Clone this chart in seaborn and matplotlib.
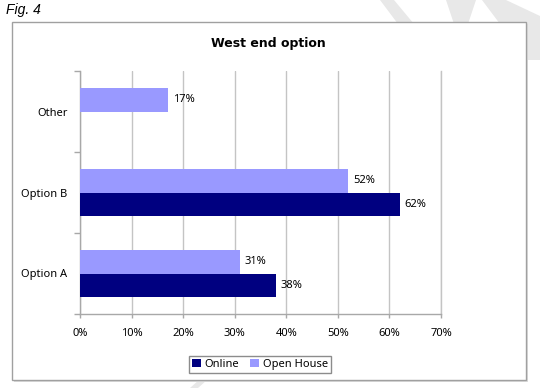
import matplotlib
matplotlib.use("Agg")
import matplotlib.pyplot as plt
import matplotlib.patches as mpatches
import pandas as pd
import seaborn as sns

# ── Data ──────────────────────────────────────────────────────────────────────
options = ["Option A", "Option B", "Option B", "Option A", "Other"]
sources = ["Online", "Online", "Open House", "Open House", "Open House"]
shares = [38, 62, 52, 31, 17]

category_order = ["Other", "Option B", "Option A"]
legend_order = ["Online", "Open House"]
x_ticks = [0, 10, 20, 30, 40, 50, 60, 70]

COLORS = {"Online": "#000080", "Open House": "#9999ff"}
GRID = "#c4c4c4"
AXIS = "#a8a8a8"

df = pd.DataFrame({"option": options, "source": sources, "share": shares})

sns.set_theme(style="white")
plt.rcParams["font.family"] = ["Noto Sans", "DejaVu Sans"]
plt.rcParams["text.color"] = "black"
plt.rcParams["xtick.labelcolor"] = "black"
plt.rcParams["ytick.labelcolor"] = "black"

W, H = 540, 388
fig = plt.figure(figsize=(W / 100, H / 100), dpi=100, facecolor="white")

# ── Watermark fragments behind the chart frame ────────────────────────────────
def fig_poly(points):
    pts = [(x / W, 1 - y / H) for x, y in points]
    fig.patches.append(mpatches.Polygon(pts, closed=True, transform=fig.transFigure,
                                        facecolor="#e8e8e8", edgecolor="none",
                                        zorder=-3))

fig_poly([(380, 0), (394, 0), (414, 24), (398, 24)])
fig_poly([(446, 0), (476, 0), (468, 24), (454, 24)])
fig_poly([(482, 0), (506, 0), (540, 16), (540, 60), (527, 60)])
fig_poly([(199, 380), (207, 380), (198, 388), (190, 388)])

# ── Chart frame (with soft shadow) ────────────────────────────────────────────
fig.patches.append(mpatches.Rectangle((14 / W, 1 - 382 / H), 514 / W, 358 / H,
                                      transform=fig.transFigure, facecolor="#dcdcdc",
                                      edgecolor="none", zorder=-2))
fig.patches.append(mpatches.Rectangle((12 / W, 1 - 380 / H), 514 / W, 358 / H,
                                      transform=fig.transFigure, facecolor="white",
                                      edgecolor="#a0a0a0", linewidth=1, zorder=-1))

# ── Bars ──────────────────────────────────────────────────────────────────────
ax = fig.add_axes([80 / W, 1 - 314 / H, 361 / W, 243 / H])
ax.set_facecolor("none")
sns.barplot(data=df, y="option", x="share", hue="source", orient="h",
            order=category_order, hue_order=["Open House", "Online"],
            palette=COLORS, width=0.57, saturation=1, legend=False, ax=ax,
            linewidth=0, zorder=3)

for container in ax.containers:
    ax.bar_label(container, fmt="{:.0f}%", padding=3.5, fontsize=8, color="black")

ax.set_xlim(0, 70)
ax.set_ylim(2.5, -0.5)
ax.set_xticks(x_ticks)
ax.set_xticklabels([f"{t}%" for t in x_ticks])
ax.set_yticks(range(len(category_order)))
ax.set_yticklabels(category_order)
ax.set_yticks([-0.5, 0.5, 1.5, 2.5], minor=True)
ax.set_xlabel("")
ax.set_ylabel("")

ax.xaxis.grid(True, color=GRID, linewidth=1)
ax.set_axisbelow(True)
ax.tick_params(axis="x", which="major", length=3, width=1, color=AXIS, pad=7,
               labelsize=8, labelcolor="black", direction="out", bottom=True)
ax.tick_params(axis="y", which="major", length=0, pad=9, labelsize=8,
               labelcolor="black")
ax.tick_params(axis="y", which="minor", length=4, width=1, color=AXIS,
               direction="out", left=True)

ax.spines["top"].set_visible(False)
for side in ["left", "bottom", "right"]:
    ax.spines[side].set_color(AXIS)
    ax.spines[side].set_linewidth(1)
ax.spines["right"].set_color(GRID)

# ── Texts and legend ──────────────────────────────────────────────────────────
fig.text(268 / W, 1 - 44 / H, "West end option", ha="center", va="center",
         fontsize=9, fontweight="bold", color="black", family=["DejaVu Sans"])
fig.text(6 / W, 1 - 10 / H, "Fig. 4", ha="left", va="center", fontsize=10,
         fontstyle="italic", color="black", family=["Liberation Sans", "DejaVu Sans"])

handles = [mpatches.Patch(facecolor=COLORS[k], edgecolor="none", label=k)
           for k in legend_order]
leg = fig.legend(handles=handles, loc="center", bbox_to_anchor=(260 / W, 1 - 364.5 / H),
                 ncol=2, frameon=True, fancybox=False, edgecolor="#707070", fontsize=8,
                 handlelength=0.8, handleheight=0.8, handletextpad=0.3,
                 columnspacing=1.0, borderpad=0.3)
for t in leg.get_texts():
    t.set_color("black")

fig.savefig("out.png", dpi=100, facecolor="white")
